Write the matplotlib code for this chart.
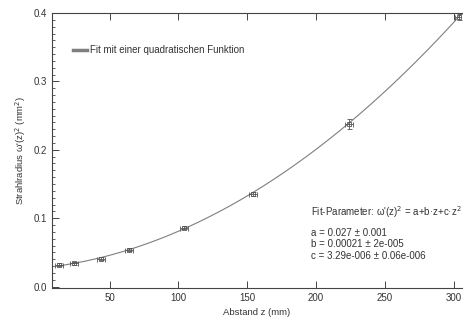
import numpy as np
import matplotlib.pyplot as plt
from matplotlib.ticker import MultipleLocator

plt.rcParams['font.family'] = ['Liberation Sans', 'DejaVu Sans']

# measured beam radius data
z = [13, 24, 44, 64, 104, 154, 224, 304]
w2 = [0.032, 0.034, 0.041, 0.054, 0.086, 0.136, 0.238, 0.394]
z_err = [3, 3, 3, 3, 3, 3, 3, 3]
w2_err = [0.002, 0.002, 0.002, 0.002, 0.002, 0.003, 0.007, 0.004]

# fit parameters a, b, c shown on the chart
fit_a = 0.027
fit_b = 0.00021
fit_c = 3.29e-6

fig = plt.figure(figsize=(4.67, 3.25), dpi=100)
ax = fig.add_axes([0.111, 0.114, 0.878, 0.846])

zz = np.linspace(10, 307, 300)
ax.plot(zz, fit_a + fit_b*zz + fit_c*zz**2, color='#7f7f7f', lw=0.8,
        label='Fit mit einer quadratischen Funktion')
ax.errorbar(z, w2, xerr=z_err, yerr=w2_err, fmt='s', ms=2.5, mfc='none',
            mec='#555555', ecolor='#555555', elinewidth=0.6, capsize=1.8,
            capthick=0.6, mew=0.6)

ax.set_xlim(8, 306)
ax.set_ylim(-0.002, 0.4)
ax.xaxis.set_major_locator(MultipleLocator(50))
ax.yaxis.set_major_locator(MultipleLocator(0.1))
ax.yaxis.set_minor_locator(MultipleLocator(0.01))
ax.yaxis.set_major_formatter(plt.FormatStrFormatter('%.1f'))
ax.tick_params(which='both', direction='in', labelsize=7, color='#444444',
               labelcolor='#333333', top=True)
ax.tick_params(which='major', length=5, width=0.7)
ax.tick_params(which='minor', length=2.5, width=0.6)
for s in ['left', 'bottom', 'top']:
    ax.spines[s].set_color('#444444')
    ax.spines[s].set_linewidth(0.8)
ax.spines['right'].set_visible(False)

ax.set_xlabel('Abstand z (mm)', fontsize=6.8, color='#333333')
ax.set_ylabel("Strahlradius ω'(z)$^2$ (mm$^2$)", fontsize=6.8, color='#333333')

leg = ax.legend(loc='upper left', bbox_to_anchor=(0.03, 0.915), frameon=False,
                fontsize=7, handlelength=1.5, handletextpad=0.3)
for h in leg.get_lines():
    h.set_linewidth(2.5)
for t in leg.get_texts():
    t.set_color('#333333')

ax.text(0.633, 0.262, "Fit-Parameter: ω'(z)$^2$ = a+b·z+c·z$^2$",
        transform=ax.transAxes, fontsize=7, color='#333333')
ax.text(0.633, 0.105, 'a = 0.027 ± 0.001\nb = 0.00021 ± 2e-005\nc = 3.29e-006 ± 0.06e-006',
        transform=ax.transAxes, fontsize=7, color='#333333', linespacing=1.2)

plt.savefig('out.png', dpi=100)
